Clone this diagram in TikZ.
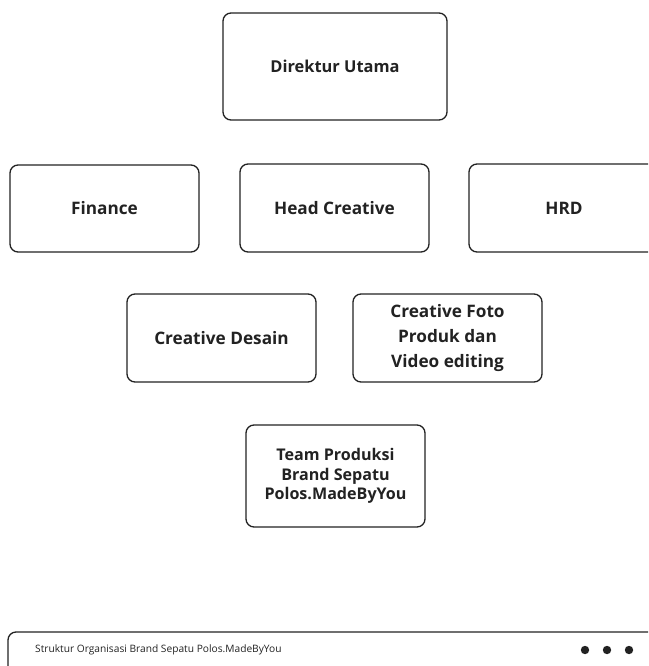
\documentclass[tikz,border=0pt]{standalone}
\usepackage{fontspec}
\setmainfont{Open Sans}
\definecolor{ink}{HTML}{222222}
\begin{document}
\begin{tikzpicture}[x=1pt,y=-1pt,
  orgbox/.style={draw=ink,line width=1.3pt,rounded corners=8pt,fill=white,
    minimum width=189pt,align=center,font=\bfseries\fontsize{17.2}{25}\selectfont,text=ink,inner sep=0pt},
]
\useasboundingbox (0,0) rectangle (648,666);
\begin{scope}
\clip (0,0) rectangle (648,666);
\node[orgbox,minimum width=224pt,minimum height=107pt,font=\bfseries\fontsize{16.4}{25}\selectfont] (dir) at (335,66.5) {Direktur Utama};
\node[orgbox,minimum height=87pt] (fin) at (104.5,208.5) {Finance};
\node[orgbox,minimum height=88pt] (head) at (334.5,208) {Head Creative};
\node[orgbox,minimum width=190pt,minimum height=88pt] (hrd) at (564,208) {HRD};
\node[orgbox,minimum height=88pt] (desain) at (221.5,338) {Creative Desain};
\node[orgbox,minimum height=88pt] (foto) at (447.5,338) {Creative Foto\\Produk dan\\Video editing};
\node[orgbox,minimum width=179pt,minimum height=102pt,font=\bfseries\fontsize{16.1}{19.5}\selectfont] (team) at (335.5,476) {Team Produksi\\Brand Sepatu\\Polos.MadeByYou};
\draw[draw=ink,line width=1.3pt,rounded corners=8pt] (8,690) -- (8,632) -- (690,632) -- (690,690);
\node[anchor=west,font=\fontsize{10.2}{12}\selectfont,text=ink,inner sep=0pt] (cap) at (35,650) {Struktur Organisasi Brand Sepatu Polos.MadeByYou};
\fill[ink] (585,650) circle (4.2pt) (607,650) circle (4.2pt) (629,650) circle (4.2pt);
\end{scope}
\end{tikzpicture}
\end{document}
